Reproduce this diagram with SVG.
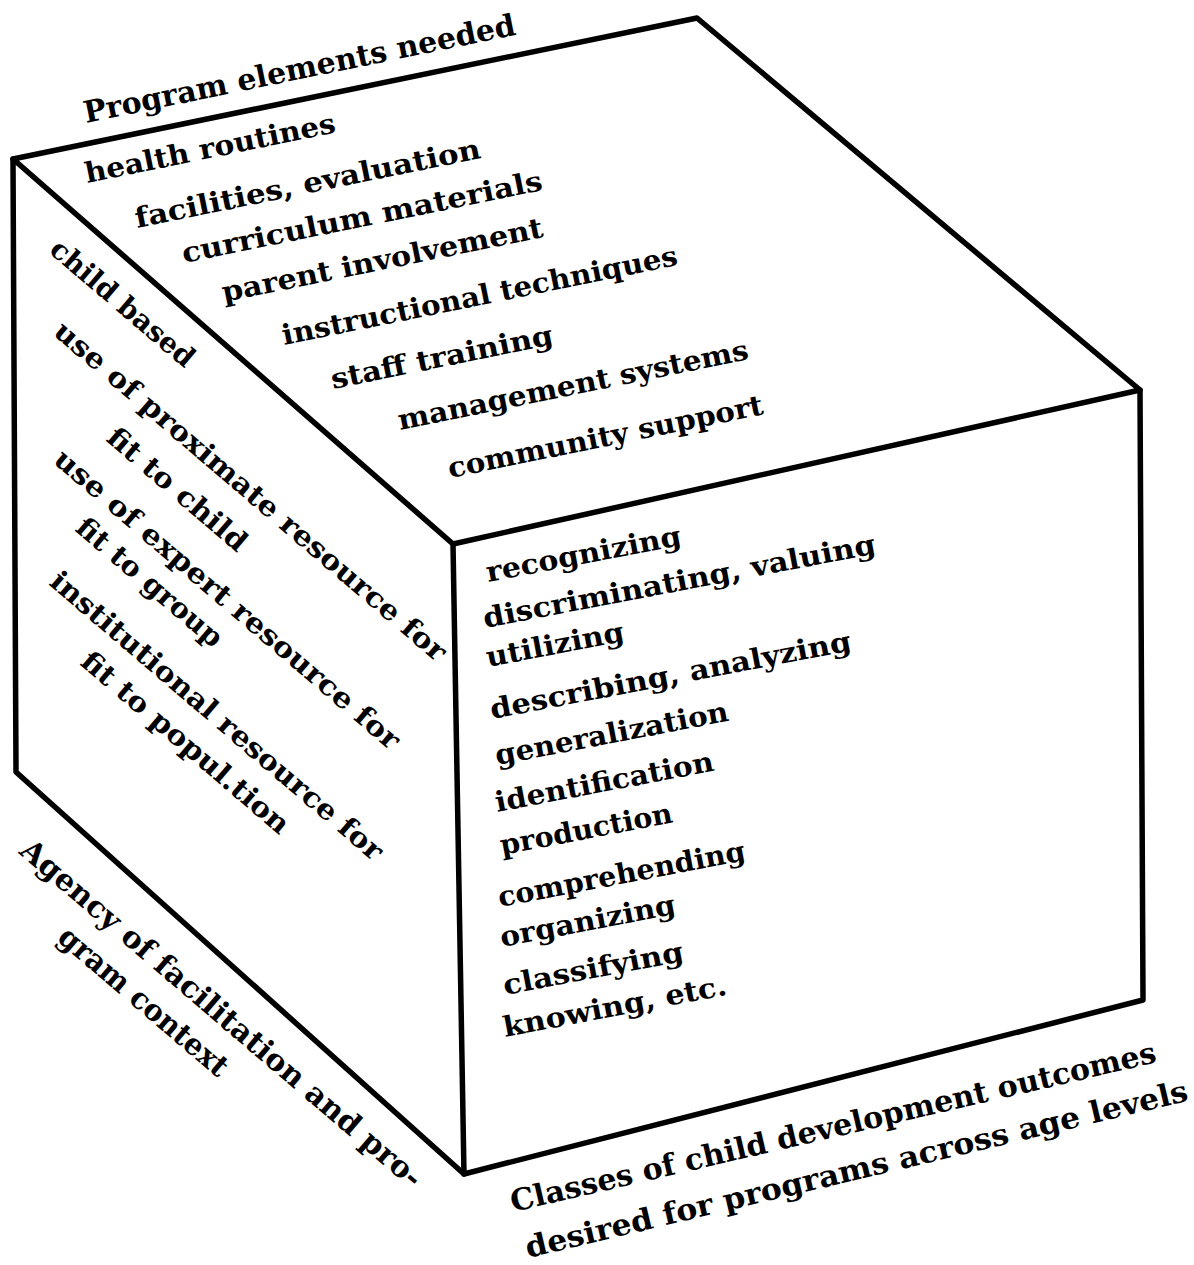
<svg xmlns="http://www.w3.org/2000/svg" width="1194" height="1265" viewBox="0 0 1194 1265">
<style>
.e{stroke:#000;stroke-width:5.5;fill:none;stroke-linecap:round;stroke-linejoin:round}
.t{font-family:"DejaVu Serif","Liberation Serif",serif;font-weight:bold;font-size:28px;fill:#000}
.h{font-family:"DejaVu Serif","Liberation Serif",serif;font-weight:bold;font-size:30px;fill:#000}
</style>
<rect width="1194" height="1265" fill="#fff"/>
<g id="cube">
<path class="e" d="M13,159 L697,18 L1140,390 L453,544 Z"/>
<path class="e" d="M453,544 L464,1174 L1143,1000 L1140,390"/>
<path class="e" d="M13,159 L16,772 L464,1174"/>
</g>
<g id="top-face">
<text class="h" transform="translate(86,123) rotate(-11.6)" textLength="440" lengthAdjust="spacingAndGlyphs">Program elements needed</text>
<text class="t" transform="translate(87,183) rotate(-11.5)" textLength="255" lengthAdjust="spacingAndGlyphs">health routines</text>
<text class="t" transform="translate(137,228) rotate(-11.5)" textLength="352" lengthAdjust="spacingAndGlyphs">facilities, evaluation</text>
<text class="t" transform="translate(184,263) rotate(-11.5)" textLength="367" lengthAdjust="spacingAndGlyphs">curriculum materials</text>
<text class="t" transform="translate(224,302) rotate(-11.5)" textLength="327" lengthAdjust="spacingAndGlyphs">parent involvement</text>
<text class="t" transform="translate(284,345) rotate(-11.5)" textLength="403" lengthAdjust="spacingAndGlyphs">instructional techniques</text>
<text class="t" transform="translate(333,389) rotate(-11.5)" textLength="226" lengthAdjust="spacingAndGlyphs">staff training</text>
<text class="t" transform="translate(400,430) rotate(-11.5)" textLength="357" lengthAdjust="spacingAndGlyphs">management systems</text>
<text class="t" transform="translate(450,478) rotate(-11.5)" textLength="321" lengthAdjust="spacingAndGlyphs">community support</text>
</g>
<g id="front-face">
<text class="t" transform="translate(488,582) rotate(-10.8)" textLength="198" lengthAdjust="spacingAndGlyphs">recognizing</text>
<text class="t" transform="translate(485,628) rotate(-10.8)" textLength="399" lengthAdjust="spacingAndGlyphs">discriminating, valuing</text>
<text class="t" transform="translate(488,667) rotate(-10.8)" textLength="140" lengthAdjust="spacingAndGlyphs">utilizing</text>
<text class="t" transform="translate(492,719) rotate(-10.8)" textLength="367" lengthAdjust="spacingAndGlyphs">describing, analyzing</text>
<text class="t" transform="translate(497,765) rotate(-10.8)" textLength="237" lengthAdjust="spacingAndGlyphs">generalization</text>
<text class="t" transform="translate(497,812) rotate(-10.8)" textLength="222" lengthAdjust="spacingAndGlyphs">identification</text>
<text class="t" transform="translate(502,855) rotate(-10.8)" textLength="175" lengthAdjust="spacingAndGlyphs">production</text>
<text class="t" transform="translate(500,907) rotate(-10.8)" textLength="251" lengthAdjust="spacingAndGlyphs">comprehending</text>
<text class="t" transform="translate(502,947) rotate(-10.8)" textLength="178" lengthAdjust="spacingAndGlyphs">organizing</text>
<text class="t" transform="translate(505,995) rotate(-10.8)" textLength="183" lengthAdjust="spacingAndGlyphs">classifying</text>
<text class="t" transform="translate(505,1037) rotate(-10.8)" textLength="227" lengthAdjust="spacingAndGlyphs">knowing, etc.</text>
</g>
<g id="left-face">
<text class="t" transform="translate(48,252) rotate(40.5)" textLength="180" lengthAdjust="spacingAndGlyphs">child based</text>
<text class="t" transform="translate(52,334) rotate(40.5)" textLength="506" lengthAdjust="spacingAndGlyphs">use of proximate resource for</text>
<text class="t" transform="translate(105,440) rotate(40.5)" textLength="174" lengthAdjust="spacingAndGlyphs">fit to child</text>
<text class="t" transform="translate(52,462) rotate(40.5)" textLength="445" lengthAdjust="spacingAndGlyphs">use of expert resource for</text>
<text class="t" transform="translate(74,530) rotate(40.5)" textLength="183" lengthAdjust="spacingAndGlyphs">fit to group</text>
<text class="t" transform="translate(48,584) rotate(40.5)" textLength="428" lengthAdjust="spacingAndGlyphs">institutional resource for</text>
<text class="t" transform="translate(79,664) rotate(40.5)" textLength="264" lengthAdjust="spacingAndGlyphs">fit to popul.tion</text>
</g>
<g id="left-axis-label">
<text class="h" transform="translate(18,853) rotate(40.5)" textLength="518" lengthAdjust="spacingAndGlyphs">Agency of facilitation and pro-</text>
<text class="h" transform="translate(56,940) rotate(40.5)" textLength="213" lengthAdjust="spacingAndGlyphs">gram context</text>
</g>
<g id="bottom-axis-label">
<text class="h" transform="translate(513,1212) rotate(-13.1)" textLength="662" lengthAdjust="spacingAndGlyphs">Classes of child development outcomes</text>
<text class="h" transform="translate(528,1258) rotate(-13.4)" textLength="680" lengthAdjust="spacingAndGlyphs">desired for programs across age levels</text>
</g>
</svg>
